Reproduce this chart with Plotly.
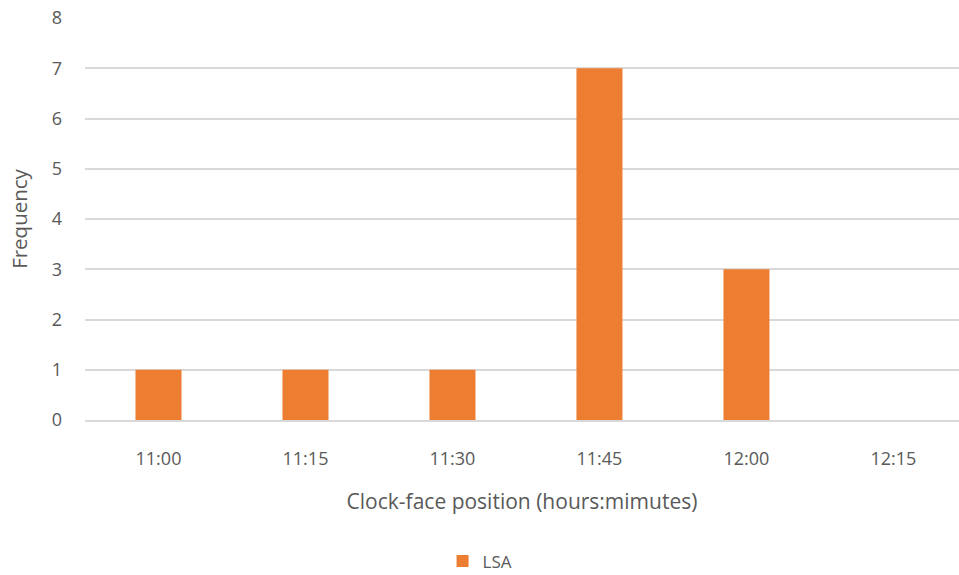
import plotly.graph_objects as go

positions = ["11:00", "11:15", "11:30", "11:45", "12:00", "12:15"]
lsa_counts = [1, 1, 1, 7, 3, 0]
y_ticks = [0, 1, 2, 3, 4, 5, 6, 7, 8]

font_family = "Open Sans, Noto Sans, sans-serif"
grey_text = "#595959"
grid = "#d9d9d9"

fig = go.Figure()
fig.add_trace(go.Bar(
    x=list(range(len(positions))),
    y=lsa_counts,
    name="LSA",
    marker=dict(color="#ED7D31", line=dict(width=0)),
    width=0.313,
))

fig.update_layout(
    width=959,
    height=575,
    margin=dict(l=85, r=0, t=18, b=155, autoexpand=False),
    plot_bgcolor="white",
    paper_bgcolor="white",
    font=dict(family=font_family, color=grey_text, size=18),
    showlegend=True,
    legend=dict(
        orientation="h",
        xref="paper", yref="paper",
        x=0.452, xanchor="center",
        y=-0.352, yanchor="middle",
        font=dict(size=17, color=grey_text),
        itemwidth=30,
    ),
    xaxis=dict(
        tickmode="array",
        tickvals=list(range(len(positions))),
        ticktext=positions,
        range=[-0.5, 5.446],
        showgrid=False,
        showline=True,
        linecolor=grid,
        linewidth=1.5,
        ticks="",
        ticklabelstandoff=22,
        automargin=False,
        title=dict(text="Clock-face position (hours:mimutes)", standoff=25,
                   font=dict(size=21, color=grey_text)),
        zeroline=False,
    ),
    yaxis=dict(
        range=[0, 8],
        tickvals=y_ticks,
        showgrid=True,
        gridcolor=grid,
        gridwidth=1.5,
        zeroline=False,
        ticks="",
        ticklabelstandoff=22,
        automargin=False,
        title=dict(text="Frequency", standoff=18,
                   font=dict(size=20.5, color=grey_text)),
    ),
)

fig.write_html("out.html")
